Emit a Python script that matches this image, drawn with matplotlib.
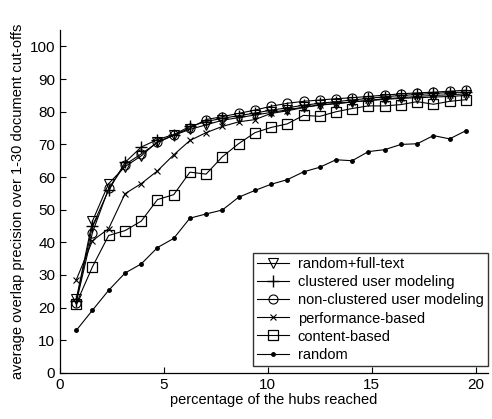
import matplotlib
matplotlib.use("Agg")
import matplotlib.pyplot as plt

plt.rcParams['font.family'] = ['Liberation Sans', 'DejaVu Sans']

hubs_pct = [0.78, 1.56, 2.34, 3.13, 3.91, 4.69, 5.47, 6.25, 7.03, 7.81, 8.59,
            9.38, 10.16, 10.94, 11.72, 12.50, 13.28, 14.06, 14.84, 15.63,
            16.41, 17.19, 17.97, 18.75, 19.53]

random_fulltext = [22.5, 46.5, 58.0, 63.2, 66.5, 70.8, 72.8, 74.6, 76.0, 77.4,
                   78.2, 79.0, 79.8, 80.6, 81.4, 82.0, 82.5, 83.0, 83.4, 83.8,
                   84.1, 84.3, 84.5, 84.7, 85.0]
clustered_um = [22.0, 45.0, 56.0, 64.5, 69.2, 71.5, 73.0, 75.5, 77.0, 78.0,
                78.8, 79.6, 80.5, 81.2, 82.0, 82.6, 83.1, 83.6, 84.1, 84.6,
                85.0, 85.3, 85.6, 85.9, 86.0]
nonclustered_um = [21.5, 43.0, 56.5, 63.8, 67.1, 70.6, 72.8, 75.0, 77.6, 78.5,
                   79.5, 80.5, 81.7, 82.6, 83.2, 83.6, 84.0, 84.3, 84.7, 85.1,
                   85.5, 85.8, 86.0, 86.3, 86.6]
performance = [28.5, 40.5, 44.2, 54.9, 58.0, 61.9, 66.8, 71.2, 73.6, 75.5,
               76.9, 77.6, 79.5, 80.3, 81.3, 82.2, 82.5, 83.0, 83.5, 84.0,
               84.3, 84.7, 85.0, 85.2, 85.5]
content = [21.2, 32.5, 42.1, 43.6, 46.5, 53.1, 54.6, 61.5, 60.9, 66.2, 70.2,
           73.6, 75.2, 76.3, 78.9, 78.6, 80.0, 81.0, 81.8, 81.8, 82.2, 83.1,
           82.3, 83.2, 83.7]
random_sel = [13.0, 19.2, 25.3, 30.6, 33.4, 38.4, 41.2, 47.4, 48.7, 49.9, 53.8,
              55.9, 57.8, 59.2, 61.6, 63.0, 65.3, 65.0, 67.8, 68.4, 70.0, 70.2,
              72.7, 71.7, 74.2]

labels = ['random+full-text', 'clustered user modeling',
          'non-clustered user modeling', 'performance-based',
          'content-based', 'random']
x_ticks = [0, 5, 10, 15, 20]
y_ticks = [0, 10, 20, 30, 40, 50, 60, 70, 80, 90, 100]

fig = plt.figure(figsize=(4.92, 4.19), dpi=100)
ax = fig.add_axes([0.122, 0.110, 0.870, 0.818])

lw = 0.8
common = dict(color='black', lw=lw, mec='black')
ax.plot(hubs_pct, random_fulltext, marker='v', ms=7, mfc='none', mew=0.8,
        label=labels[0], **common)
ax.plot(hubs_pct, clustered_um, marker='+', ms=8, mew=1.0,
        label=labels[1], **common)
ax.plot(hubs_pct, nonclustered_um, marker='o', ms=6.5, mfc='none', mew=0.8,
        label=labels[2], **common)
ax.plot(hubs_pct, performance, marker='x', ms=4.5, mew=0.8,
        label=labels[3], **common)
ax.plot(hubs_pct, content, marker='s', ms=6.5, mfc='none', mew=0.9,
        label=labels[4], **common)
ax.plot(hubs_pct, random_sel, marker='.', ms=5, mfc='black',
        label=labels[5], **common)

ax.set_xlim(0, 20.6)
ax.set_ylim(0, 105)
ax.set_xticks(x_ticks)
ax.set_yticks(y_ticks)
ax.tick_params(direction='in', length=4, labelsize=11, width=0.8)
for side in ('top', 'right'):
    ax.spines[side].set_visible(False)
for side in ('left', 'bottom'):
    ax.spines[side].set_linewidth(0.9)

ax.set_xlabel('percentage of the hubs reached', fontsize=10.5, labelpad=1)
ax.set_ylabel('average overlap precision over 1-30 document cut-offs',
              fontsize=10.5, labelpad=3)

leg = ax.legend(loc='lower right', bbox_to_anchor=(1.0, 0.02), fontsize=10.5,
                frameon=True, fancybox=False, edgecolor='black',
                handlelength=2.2, labelspacing=0.28, borderpad=0.3,
                handletextpad=0.6, borderaxespad=0.0)
leg.get_frame().set_linewidth(1.0)

fig.savefig('out.png', dpi=100)
